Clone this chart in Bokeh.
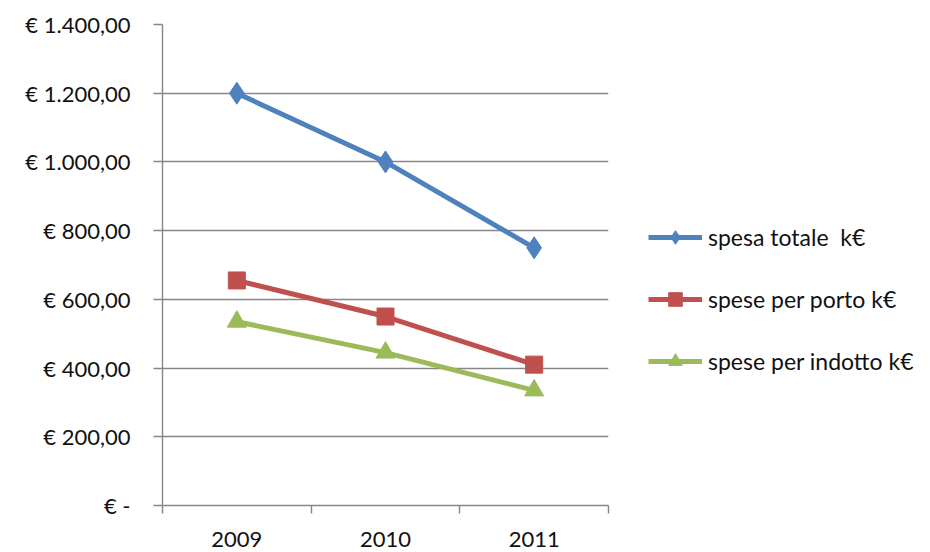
from bokeh.plotting import figure
from bokeh.models import FixedTicker, Legend, LegendItem, Range1d
from bokeh.embed import file_html
from bokeh.resources import INLINE

years = ["2009", "2010", "2011"]
spesa_totale = [1200, 1000, 750]
spese_porto = [655, 550, 410]
spese_indotto = [535, 445, 335]
series_names = ["spesa totale  k€", "spese per porto k€", "spese per indotto k€"]
y_ticks = [0, 200, 400, 600, 800, 1000, 1200, 1400]
y_tick_labels = ["€ -", "€ 200,00", "€ 400,00", "€ 600,00", "€ 800,00",
                 "€ 1.000,00", "€ 1.200,00", "€ 1.400,00"]

FONT = "Lato"
xs = [i + 0.5 for i in range(len(years))]

p = figure(frame_width=446, frame_height=481, output_backend="svg", toolbar_location=None,
           x_range=Range1d(0, len(years)), y_range=Range1d(0, 1400),
           min_border_left=162, min_border_right=5, min_border_top=24,
           min_border_bottom=45)
p.outline_line_color = None
p.background_fill_color = "white"
p.border_fill_color = "white"

p.xgrid.grid_line_color = None
p.ygrid.grid_line_color = "#868686"
p.ygrid.grid_line_width = 1.4

p.yaxis.ticker = FixedTicker(ticks=y_ticks)
p.yaxis.major_label_overrides = {t: l for t, l in zip(y_ticks, y_tick_labels)}
p.yaxis.axis_line_color = "#868686"
p.yaxis.axis_line_width = 1.4
p.yaxis.major_tick_line_color = "#868686"
p.yaxis.major_tick_line_width = 1.4
p.yaxis.major_tick_out = 9
p.yaxis.major_tick_in = 0
p.yaxis.minor_tick_line_color = None
p.yaxis.major_label_standoff = 23
p.yaxis.major_label_text_font = FONT
p.yaxis.major_label_text_font_size = "22px"
p.yaxis.major_label_text_color = "#111111"

p.xaxis.ticker = FixedTicker(ticks=xs, minor_ticks=list(range(len(years) + 1)))
p.xaxis.major_label_overrides = {x: y for x, y in zip(xs, years)}
p.xaxis.axis_line_color = "#868686"
p.xaxis.axis_line_width = 1.4
p.xaxis.major_tick_line_color = None
p.xaxis.minor_tick_line_color = "#868686"
p.xaxis.minor_tick_line_width = 1.4
p.xaxis.minor_tick_out = 8
p.xaxis.minor_tick_in = 0
p.xaxis.major_label_standoff = 18
p.xaxis.major_label_text_font = FONT
p.xaxis.major_label_text_font_size = "22px"
p.xaxis.major_label_text_color = "#111111"

colors = ["#4F81BD", "#C0504D", "#9BBB59"]
markers = ["diamond", "square", "triangle"]
sizes = [22, 17, 19]
data = [spesa_totale, spese_porto, spese_indotto]

items = []
for name, vals, c, m, s in zip(series_names, data, colors, markers, sizes):
    l = p.line(xs, vals, line_color=c, line_width=5)
    sc = p.scatter(xs, vals, marker=m, size=s, fill_color=c, line_color=c)
    items.append(LegendItem(label=name, renderers=[l, sc]))

legend = Legend(items=items, location=(40, 127), orientation="vertical")
legend.border_line_color = None
legend.background_fill_alpha = 0
legend.padding = 0
legend.margin = 0
legend.glyph_width = 54
legend.glyph_height = 34
legend.label_height = 20
legend.spacing = 28
legend.label_standoff = 6
legend.label_text_font = FONT
legend.label_text_font_size = "23px"
legend.label_text_color = "#111111"
p.add_layout(legend, "right")

open("out.html", "w").write(file_html(p, INLINE))
